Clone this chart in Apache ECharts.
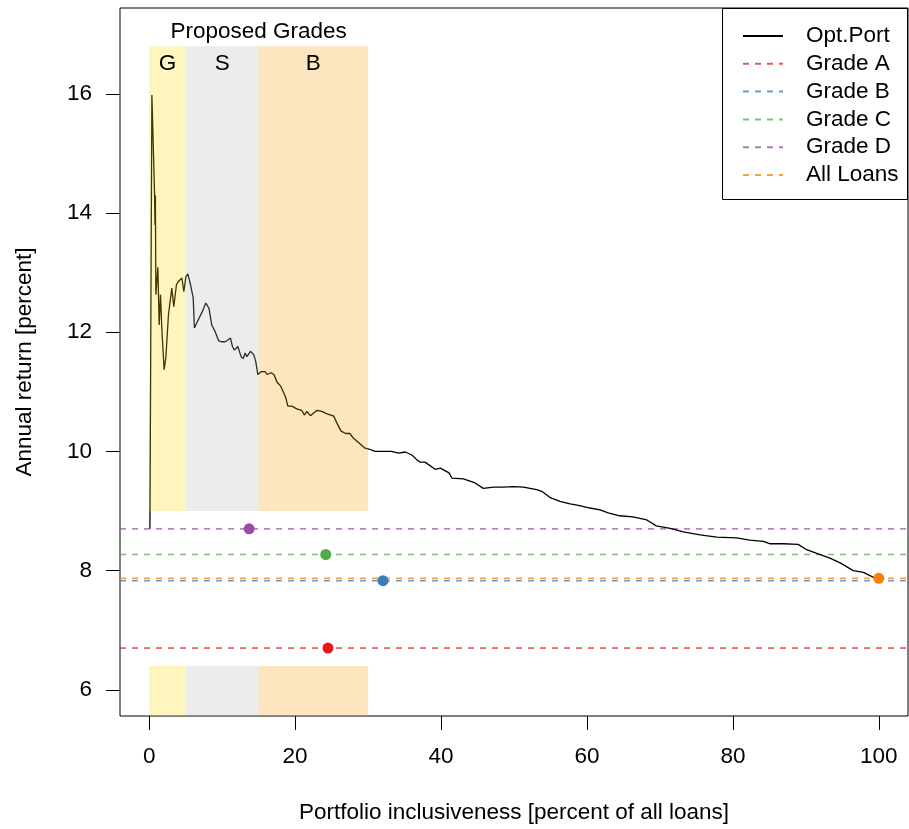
<!DOCTYPE html>
<html>
<head>
<meta charset="utf-8">
<script src="https://cdn.jsdelivr.net/npm/echarts@6/dist/echarts.min.js"></script>
<style>
  html, body { margin: 0; padding: 0; background: #fff; }
  #chart { width: 909px; height: 829px; }
</style>
</head>
<body>
<div id="chart"></div>
<script>
// optimal portfolio curve
const optX = [0.1, 0.37, 0.73, 0.8, 0.85, 0.92, 1.19, 1.37, 1.55, 1.74, 2.05, 2.28, 2.64, 3.1, 3.37, 3.74, 4.0, 4.2, 4.48, 4.75,
  5.03, 5.3, 5.66, 6.03, 6.2, 6.53, 6.75, 7.3, 7.5, 7.76, 7.95, 8.2, 8.58, 8.85, 9.04, 9.3, 9.5, 9.86, 10.4, 10.78,
  11.14, 11.41, 11.69, 12.15, 12.6, 12.9, 13.15, 13.4, 13.88, 14.34, 14.6, 14.89, 15.4, 15.9, 16.16, 16.7, 17.1, 17.53, 18.0, 18.45,
  18.7, 19.0, 19.55, 20.3, 20.9, 21.27, 21.6, 22.1, 23.0, 23.65, 24.4, 25.3, 25.75, 26.3, 26.94, 27.5, 28.0, 28.77, 29.5, 30.1,
  30.96, 31.8, 33.2, 34.2, 35.1, 36.0, 36.6, 37.1, 37.8, 39.2, 39.9, 41.1, 41.5, 43.05, 43.97, 44.66, 45.8, 47.2, 48.5, 49.9,
  51.3, 53.1, 53.8, 54.9, 56.3, 57.7, 59.0, 60.4, 61.8, 62.9, 64.5, 66.3, 68.2, 69.5, 71.4, 73.2, 75.5, 77.8, 80.5, 82.3,
  84.2, 85.1, 86.9, 88.95, 90.1, 91.5, 93.3, 94.7, 96.5, 97.9, 99.2, 100]
const optY = [8.70, 15.98, 14.36, 13.8, 14.3, 12.63, 13.09, 12.12, 12.63, 12.04, 11.37, 11.57, 12.29, 12.74, 12.43, 12.8, 12.85, 12.83, 12.91, 12.68,
  12.93, 12.98, 12.80, 12.58, 12.07, 12.16, 12.18, 12.35, 12.34, 12.49, 12.52, 12.4, 12.12, 12.15, 12.01, 12.02, 11.86, 11.84, 11.84, 11.87,
  11.90, 11.76, 11.70, 11.76, 11.59, 11.56, 11.65, 11.59, 11.68, 11.62, 11.51, 11.29, 11.34, 11.34, 11.29, 11.32, 11.29, 11.16, 11.10, 10.98,
  10.91, 10.76, 10.76, 10.71, 10.69, 10.61, 10.67, 10.60, 10.69, 10.67, 10.63, 10.59, 10.47, 10.34, 10.30, 10.30, 10.22, 10.14, 10.06, 10.04,
  10.0, 10.0, 10.0, 9.97, 9.99, 9.94, 9.87, 9.82, 9.82, 9.70, 9.72, 9.64, 9.55, 9.54, 9.50, 9.47, 9.38, 9.40, 9.40, 9.41,
  9.40, 9.36, 9.33, 9.23, 9.16, 9.12, 9.09, 9.05, 9.02, 8.97, 8.92, 8.90, 8.85, 8.75, 8.71, 8.65, 8.60, 8.56, 8.55, 8.51,
  8.49, 8.45, 8.45, 8.44, 8.35, 8.29, 8.21, 8.13, 8.0, 7.97, 7.89, 7.87]

// benchmark grades (horizontal lines) and their marker positions
const gradeNames = ['Grade A', 'Grade B', 'Grade C', 'Grade D', 'All Loans']
const gradeReturn = [6.70, 7.83, 8.27, 8.70, 7.87]
const gradeInclusive = [24.5, 32.05, 24.2, 13.7, 100]
const gradeColors = ['#E41A1C', '#377EB8', '#4DAF4A', '#984EA3', '#FF7F00']

// proposed grade bands
const bandNames = ['G', 'S', 'B']
const bandStart = [0, 5, 15]
const bandEnd = [5, 15, 30]
const bandColors = ['rgba(255,215,0,0.25)', 'rgba(180,180,180,0.25)', 'rgba(248,156,0,0.25)']
const bandTop = [9.0, 16.8]
const bandBottom = [5.56, 6.4]

const xTicks = [0, 20, 40, 60, 80, 100]
const yTicks = [6, 8, 10, 12, 14, 16]
const xMin = -4, xMax = 104
const yMin = 5.56, yMax = 17.44

const FONT = 'Liberation Sans'
const FS = 22.5

const chart = echarts.init(document.getElementById('chart'))

const fade = (hex, a) => {
    const n = parseInt(hex.slice(1), 16)
    return 'rgba(' + (n >> 16) + ',' + ((n >> 8) & 255) + ',' + (n & 255) + ',' + a + ')'
}

const gradeSeries = gradeNames.map((name, i) => ({
    name: name,
    type: 'line',
    symbol: 'none',
    silent: true,
    z: 2,
    lineStyle: { color: fade(gradeColors[i], 0.75), width: 1.6, type: [6, 6] },
    itemStyle: { color: fade(gradeColors[i], 0.75) },
    data: [[xMin, gradeReturn[i]], [xMax, gradeReturn[i]]]
}))

const bandAreas = []
bandNames.forEach((b, i) => {
    bandAreas.push([
        { xAxis: bandStart[i], yAxis: bandTop[1], itemStyle: { color: bandColors[i] },
          label: { show: true, position: 'insideTop', distance: 6, formatter: b, color: '#000', fontSize: FS, fontFamily: FONT } },
        { xAxis: bandEnd[i], yAxis: bandTop[0] }
    ])
    bandAreas.push([
        { xAxis: bandStart[i], yAxis: bandBottom[0], itemStyle: { color: bandColors[i] }, label: { show: false } },
        { xAxis: bandEnd[i], yAxis: bandBottom[1] }
    ])
})
bandAreas.push([
    { xAxis: bandStart[0], yAxis: bandTop[1], itemStyle: { color: 'rgba(0,0,0,0)' },
      label: { show: true, position: 'top', distance: 3, formatter: 'Proposed Grades', color: '#000', fontSize: FS, fontFamily: FONT } },
    { xAxis: bandEnd[2], yAxis: bandTop[0] }
])

const option = {
    animation: false,
    backgroundColor: '#fff',
    textStyle: { fontFamily: FONT },
    grid: {
        left: 120, right: 1, top: 8, bottom: 113,
        show: true, borderColor: '#000', borderWidth: 1, backgroundColor: 'transparent'
    },
    xAxis: {
        type: 'value', min: xMin, max: xMax,
        splitLine: { show: false },
        axisLine: { show: false, onZero: false },
        axisTick: { show: true, length: 14, lineStyle: { color: '#000' }, customValues: xTicks },
        axisLabel: { color: '#000', fontSize: FS, fontFamily: FONT, margin: 29, customValues: xTicks },
        name: 'Portfolio inclusiveness [percent of all loans]',
        nameLocation: 'middle', nameGap: 85,
        nameTextStyle: { color: '#000', fontSize: FS, fontFamily: FONT }
    },
    yAxis: {
        type: 'value', min: yMin, max: yMax,
        splitLine: { show: false },
        axisLine: { show: false, onZero: false },
        axisTick: { show: true, length: 14, lineStyle: { color: '#000' }, customValues: yTicks },
        axisLabel: { color: '#000', fontSize: FS, fontFamily: FONT, margin: 28, customValues: yTicks },
        name: 'Annual return [percent]',
        nameLocation: 'middle', nameGap: 84, nameRotate: 90,
        nameTextStyle: { color: '#000', fontSize: FS, fontFamily: FONT }
    },
    legend: {
        left: 722, top: 8, orient: 'vertical', z: 6,
        data: ['Opt.Port'].concat(gradeNames),
        padding: [16.5, 0, 16.5, 20],
        itemWidth: 40, itemHeight: 14, itemGap: 4.8,
        itemStyle: { opacity: 0 },
        textStyle: { color: '#000', fontSize: FS, fontFamily: FONT, lineHeight: 22.5, padding: [0, 0, 0, 18] },
        selectedMode: false
    },
    graphic: [{
        type: 'rect', z: 5,
        shape: { x: 722.5, y: 8.5, width: 185, height: 191 },
        style: { fill: '#fff', stroke: '#000', lineWidth: 1 }
    }],
    series: [
        {
            name: 'Opt.Port',
            type: 'line',
            symbol: 'none',
            z: 3,
            lineStyle: { color: '#000', width: 1.3 },
            itemStyle: { color: '#000' },
            data: optX.map((x, i) => [x, optY[i]])
        },
        ...gradeSeries,
        {
            name: 'points',
            type: 'scatter',
            symbolSize: 11,
            z: 4,
            itemStyle: { opacity: 1 },
            data: gradeInclusive.map((x, i) => ({ value: [x, gradeReturn[i]], itemStyle: { color: gradeColors[i], opacity: 1 } }))
        },
        {
            name: 'bands',
            type: 'line',
            data: [],
            z: 6,
            markArea: { silent: true, z: 6, data: bandAreas }
        }
    ]
}

chart.setOption(option)
</script>
</body>
</html>
